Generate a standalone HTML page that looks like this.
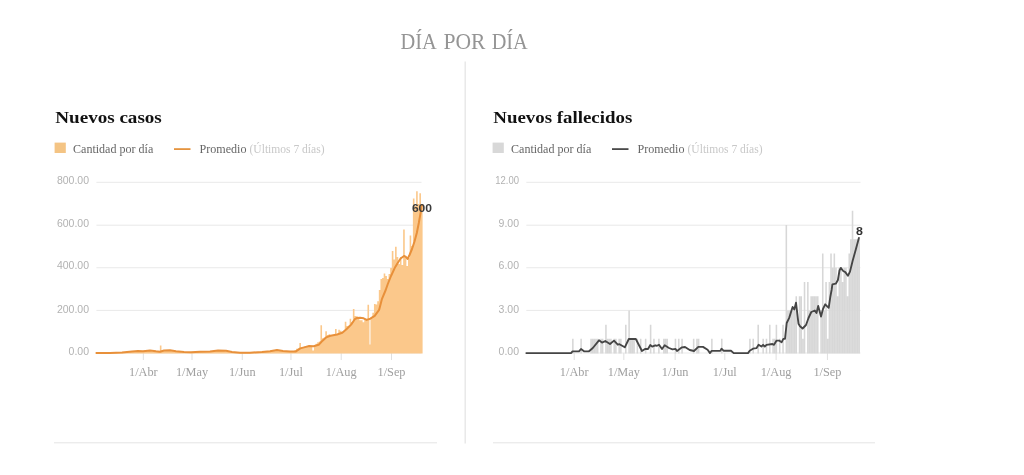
<!DOCTYPE html>
<html lang="es"><head><meta charset="utf-8"><title>Día por día</title>
<style>html,body{margin:0;padding:0;background:#fff;width:1024px;height:475px;overflow:hidden;font-family:"Liberation Sans",sans-serif}</style>
</head><body>
<svg width="1024" height="475" viewBox="0 0 1024 475" style="position:absolute;left:0;top:0;will-change:transform">
<rect width="1024" height="475" fill="#fff"/>
<text x="400.5" y="49" font-family="Liberation Serif, serif" font-size="24" fill="#959595" textLength="36.3" lengthAdjust="spacingAndGlyphs">DÍA</text>
<text x="443.4" y="49" font-family="Liberation Serif, serif" font-size="24" fill="#959595" textLength="42.0" lengthAdjust="spacingAndGlyphs">POR</text>
<text x="491.7" y="49" font-family="Liberation Serif, serif" font-size="24" fill="#959595" textLength="36.1" lengthAdjust="spacingAndGlyphs">DÍA</text>
<rect x="464.65" y="61.5" width="1" height="382" fill="#dedede"/>
<rect x="54" y="442.3" width="383" height="1" fill="#e4e4e4"/>
<rect x="493" y="442.3" width="382" height="1" fill="#e4e4e4"/>
<text x="55.3" y="123" font-family="Liberation Serif, serif" font-weight="bold" font-size="16" fill="#111" textLength="106.5" lengthAdjust="spacingAndGlyphs">Nuevos casos</text>
<rect x="54.6" y="142.6" width="11.2" height="10.4" fill="#f4c484"/>
<text x="73" y="152.8" font-family="Liberation Serif, serif" font-size="11.5" fill="#666" textLength="80.3" lengthAdjust="spacingAndGlyphs">Cantidad por día</text>
<rect x="174" y="148.2" width="16.5" height="1.8" fill="#e5943f"/>
<text x="199.5" y="152.8" font-family="Liberation Serif, serif" font-size="11.5" fill="#666" textLength="47" lengthAdjust="spacingAndGlyphs">Promedio</text>
<text x="249.5" y="152.8" font-family="Liberation Serif, serif" font-size="11.5" fill="#c8c8c8" textLength="75" lengthAdjust="spacingAndGlyphs">(Últimos 7 días)</text>
<rect x="96.4" y="181.80" width="325.1" height="1" fill="#e9e9e9"/>
<text x="89" y="184" text-anchor="end" font-family="Liberation Sans, sans-serif" font-size="10.5" fill="#b2b2b2">800.00</text>
<rect x="96.4" y="224.70" width="325.1" height="1" fill="#e9e9e9"/>
<text x="89" y="227" text-anchor="end" font-family="Liberation Sans, sans-serif" font-size="10.5" fill="#b2b2b2">600.00</text>
<rect x="96.4" y="267.25" width="325.1" height="1" fill="#e9e9e9"/>
<text x="89" y="269" text-anchor="end" font-family="Liberation Sans, sans-serif" font-size="10.5" fill="#b2b2b2">400.00</text>
<rect x="96.4" y="309.90" width="325.1" height="1" fill="#e9e9e9"/>
<text x="89" y="313" text-anchor="end" font-family="Liberation Sans, sans-serif" font-size="10.5" fill="#b2b2b2">200.00</text>
<rect x="96.4" y="352.50" width="325.1" height="1" fill="#e9e9e9"/>
<text x="89" y="355" text-anchor="end" font-family="Liberation Sans, sans-serif" font-size="10.5" fill="#b2b2b2">0.00</text>
<text x="493.3" y="123" font-family="Liberation Serif, serif" font-weight="bold" font-size="16" fill="#111" textLength="139" lengthAdjust="spacingAndGlyphs">Nuevos fallecidos</text>
<rect x="492.6" y="142.6" width="11.2" height="10.4" fill="#d8d8d8"/>
<text x="511" y="152.8" font-family="Liberation Serif, serif" font-size="11.5" fill="#666" textLength="80.3" lengthAdjust="spacingAndGlyphs">Cantidad por día</text>
<rect x="612" y="148.2" width="16.5" height="1.8" fill="#4a4a4a"/>
<text x="637.5" y="152.8" font-family="Liberation Serif, serif" font-size="11.5" fill="#666" textLength="47" lengthAdjust="spacingAndGlyphs">Promedio</text>
<text x="687.5" y="152.8" font-family="Liberation Serif, serif" font-size="11.5" fill="#c8c8c8" textLength="75" lengthAdjust="spacingAndGlyphs">(Últimos 7 días)</text>
<rect x="526.3" y="181.80" width="334.20000000000005" height="1" fill="#e9e9e9"/>
<text x="519" y="184" text-anchor="end" font-family="Liberation Sans, sans-serif" font-size="10.5" fill="#b2b2b2" textLength="23.8" lengthAdjust="spacingAndGlyphs">12.00</text>
<rect x="526.3" y="224.70" width="334.20000000000005" height="1" fill="#e9e9e9"/>
<text x="519" y="227" text-anchor="end" font-family="Liberation Sans, sans-serif" font-size="10.5" fill="#b2b2b2">9.00</text>
<rect x="526.3" y="267.25" width="334.20000000000005" height="1" fill="#e9e9e9"/>
<text x="519" y="269" text-anchor="end" font-family="Liberation Sans, sans-serif" font-size="10.5" fill="#b2b2b2">6.00</text>
<rect x="526.3" y="309.90" width="334.20000000000005" height="1" fill="#e9e9e9"/>
<text x="519" y="313" text-anchor="end" font-family="Liberation Sans, sans-serif" font-size="10.5" fill="#b2b2b2">3.00</text>
<rect x="526.3" y="352.50" width="334.20000000000005" height="1" fill="#e9e9e9"/>
<text x="519" y="355" text-anchor="end" font-family="Liberation Sans, sans-serif" font-size="10.5" fill="#b2b2b2">0.00</text>
<rect x="142.84" y="353" width="1" height="7" fill="#e0e0e0"/>
<text x="143.34" y="376" text-anchor="middle" font-family="Liberation Serif, serif" font-size="12.3" fill="#a0a0a0">1/Abr</text>
<rect x="573.69" y="353" width="1" height="7" fill="#e0e0e0"/>
<text x="574.19" y="376" text-anchor="middle" font-family="Liberation Serif, serif" font-size="12.3" fill="#a0a0a0">1/Abr</text>
<rect x="191.50" y="353" width="1" height="7" fill="#e0e0e0"/>
<text x="192.00" y="376" text-anchor="middle" font-family="Liberation Serif, serif" font-size="12.3" fill="#a0a0a0">1/May</text>
<rect x="623.34" y="353" width="1" height="7" fill="#e0e0e0"/>
<text x="623.84" y="376" text-anchor="middle" font-family="Liberation Serif, serif" font-size="12.3" fill="#a0a0a0">1/May</text>
<rect x="241.78" y="353" width="1" height="7" fill="#e0e0e0"/>
<text x="242.28" y="376" text-anchor="middle" font-family="Liberation Serif, serif" font-size="12.3" fill="#a0a0a0">1/Jun</text>
<rect x="674.65" y="353" width="1" height="7" fill="#e0e0e0"/>
<text x="675.15" y="376" text-anchor="middle" font-family="Liberation Serif, serif" font-size="12.3" fill="#a0a0a0">1/Jun</text>
<rect x="290.44" y="353" width="1" height="7" fill="#e0e0e0"/>
<text x="290.94" y="376" text-anchor="middle" font-family="Liberation Serif, serif" font-size="12.3" fill="#a0a0a0">1/Jul</text>
<rect x="724.30" y="353" width="1" height="7" fill="#e0e0e0"/>
<text x="724.80" y="376" text-anchor="middle" font-family="Liberation Serif, serif" font-size="12.3" fill="#a0a0a0">1/Jul</text>
<rect x="340.72" y="353" width="1" height="7" fill="#e0e0e0"/>
<text x="341.22" y="376" text-anchor="middle" font-family="Liberation Serif, serif" font-size="12.3" fill="#a0a0a0">1/Aug</text>
<rect x="775.60" y="353" width="1" height="7" fill="#e0e0e0"/>
<text x="776.10" y="376" text-anchor="middle" font-family="Liberation Serif, serif" font-size="12.3" fill="#a0a0a0">1/Aug</text>
<rect x="391.00" y="353" width="1" height="7" fill="#e0e0e0"/>
<text x="391.50" y="376" text-anchor="middle" font-family="Liberation Serif, serif" font-size="12.3" fill="#a0a0a0">1/Sep</text>
<rect x="826.91" y="353" width="1" height="7" fill="#e0e0e0"/>
<text x="827.41" y="376" text-anchor="middle" font-family="Liberation Serif, serif" font-size="12.3" fill="#a0a0a0">1/Sep</text>
<path d="M96.59 353.50V352.80h1.614V353.50zM98.21 353.50V352.80h1.614V353.50zM99.83 353.50V352.80h1.614V353.50zM101.46 353.50V352.80h1.614V353.50zM103.08 353.50V352.80h1.614V353.50zM104.70 353.50V352.80h1.614V353.50zM106.32 353.50V352.80h1.614V353.50zM107.94 353.50V352.80h1.614V353.50zM109.57 353.50V352.80h1.614V353.50zM111.19 353.50V352.78h1.614V353.50zM112.81 353.50V352.74h1.614V353.50zM114.43 353.50V352.70h1.614V353.50zM116.05 353.50V352.66h1.614V353.50zM117.68 353.50V352.41h1.614V353.50zM119.30 353.50V352.35h1.614V353.50zM120.92 353.50V352.22h1.614V353.50zM122.54 353.50V352.05h1.614V353.50zM124.16 353.50V351.88h1.614V353.50zM125.79 353.50V351.80h1.614V353.50zM127.41 353.50V351.70h1.614V353.50zM129.03 353.50V351.44h1.614V353.50zM130.65 353.50V351.48h1.614V353.50zM132.27 353.50V351.11h1.614V353.50zM133.90 353.50V351.10h1.614V353.50zM135.52 353.50V351.19h1.614V353.50zM137.14 353.50V351.29h1.614V353.50zM138.76 353.50V351.34h1.614V353.50zM140.38 353.50V351.11h1.614V353.50zM142.00 353.50V351.12h1.614V353.50zM143.63 353.50V350.83h1.614V353.50zM145.25 353.50V350.63h1.614V353.50zM146.87 353.50V350.71h1.614V353.50zM148.49 353.50V350.85h1.614V353.50zM150.12 353.50V351.19h1.614V353.50zM151.74 353.50V351.38h1.614V353.50zM153.36 353.50V351.50h1.614V353.50zM154.98 353.50V351.57h1.614V353.50zM156.60 353.50V351.62h1.614V353.50zM158.23 353.50V351.19h1.614V353.50zM159.85 353.50V345.50h1.614V353.50zM161.47 353.50V350.55h1.614V353.50zM163.09 353.50V350.55h1.614V353.50zM164.71 353.50V350.31h1.614V353.50zM166.34 353.50V350.31h1.614V353.50zM167.96 353.50V350.71h1.614V353.50zM169.58 353.50V350.82h1.614V353.50zM171.20 353.50V351.07h1.614V353.50zM172.82 353.50V351.19h1.614V353.50zM174.44 353.50V351.42h1.614V353.50zM176.07 353.50V351.69h1.614V353.50zM177.69 353.50V351.76h1.614V353.50zM179.31 353.50V352.06h1.614V353.50zM180.93 353.50V352.14h1.614V353.50zM182.56 353.50V352.15h1.614V353.50zM184.18 353.50V352.26h1.614V353.50zM185.80 353.50V352.27h1.614V353.50zM187.42 353.50V352.34h1.614V353.50zM189.04 353.50V352.19h1.614V353.50zM190.67 353.50V352.09h1.614V353.50zM192.29 353.50V352.02h1.614V353.50zM193.91 353.50V351.89h1.614V353.50zM195.53 353.50V351.88h1.614V353.50zM197.15 353.50V351.77h1.614V353.50zM198.78 353.50V351.75h1.614V353.50zM200.40 353.50V351.72h1.614V353.50zM202.02 353.50V351.71h1.614V353.50zM203.64 353.50V351.61h1.614V353.50zM205.26 353.50V351.56h1.614V353.50zM206.89 353.50V351.55h1.614V353.50zM208.51 353.50V351.31h1.614V353.50zM210.13 353.50V351.28h1.614V353.50zM211.75 353.50V350.91h1.614V353.50zM213.37 353.50V350.73h1.614V353.50zM215.00 353.50V350.53h1.614V353.50zM216.62 353.50V350.61h1.614V353.50zM218.24 353.50V350.81h1.614V353.50zM219.86 353.50V350.80h1.614V353.50zM221.48 353.50V350.73h1.614V353.50zM223.11 353.50V351.12h1.614V353.50zM224.73 353.50V351.32h1.614V353.50zM226.35 353.50V351.70h1.614V353.50zM227.97 353.50V352.02h1.614V353.50zM229.59 353.50V352.18h1.614V353.50zM231.22 353.50V352.25h1.614V353.50zM232.84 353.50V352.44h1.614V353.50zM234.46 353.50V352.56h1.614V353.50zM236.08 353.50V352.69h1.614V353.50zM237.70 353.50V352.70h1.614V353.50zM239.33 353.50V352.71h1.614V353.50zM240.95 353.50V352.70h1.614V353.50zM242.57 353.50V352.70h1.614V353.50zM244.19 353.50V352.70h1.614V353.50zM245.81 353.50V352.70h1.614V353.50zM247.44 353.50V352.62h1.614V353.50zM249.06 353.50V352.55h1.614V353.50zM250.68 353.50V352.45h1.614V353.50zM252.30 353.50V352.36h1.614V353.50zM253.92 353.50V352.23h1.614V353.50zM255.55 353.50V352.12h1.614V353.50zM257.17 353.50V352.12h1.614V353.50zM258.79 353.50V352.00h1.614V353.50zM260.41 353.50V351.84h1.614V353.50zM262.03 353.50V351.68h1.614V353.50zM263.66 353.50V351.47h1.614V353.50zM265.28 353.50V351.29h1.614V353.50zM266.90 353.50V351.17h1.614V353.50zM268.52 353.50V351.02h1.614V353.50zM270.14 353.50V350.65h1.614V353.50zM271.76 353.50V350.43h1.614V353.50zM273.39 353.50V350.16h1.614V353.50zM275.01 353.50V350.24h1.614V353.50zM276.63 353.50V350.58h1.614V353.50zM278.25 353.50V350.87h1.614V353.50zM279.88 353.50V351.03h1.614V353.50zM281.50 353.50V351.16h1.614V353.50zM283.12 353.50V351.46h1.614V353.50zM284.74 353.50V351.41h1.614V353.50zM286.36 353.50V351.56h1.614V353.50zM287.99 353.50V351.49h1.614V353.50zM289.61 353.50V351.45h1.614V353.50zM291.23 353.50V351.48h1.614V353.50zM292.85 353.50V350.95h1.614V353.50zM294.47 353.50V350.02h1.614V353.50zM296.10 353.50V348.64h1.614V353.50zM297.72 353.50V348.47h1.614V353.50zM299.34 353.50V343.00h1.614V353.50zM300.96 353.50V347.52h1.614V353.50zM302.58 353.50V347.16h1.614V353.50zM304.21 353.50V346.58h1.614V353.50zM305.83 353.50V346.66h1.614V353.50zM307.45 353.50V346.82h1.614V353.50zM309.07 353.50V346.77h1.614V353.50zM310.69 353.50V346.62h1.614V353.50zM312.32 353.50V350.60h1.614V353.50zM313.94 353.50V345.82h1.614V353.50zM315.56 353.50V343.71h1.614V353.50zM317.18 353.50V342.30h1.614V353.50zM318.80 353.50V341.57h1.614V353.50zM320.43 353.50V325.30h1.614V353.50zM322.05 353.50V338.30h1.614V353.50zM323.67 353.50V337.53h1.614V353.50zM325.29 353.50V331.20h1.614V353.50zM326.91 353.50V335.05h1.614V353.50zM328.54 353.50V334.34h1.614V353.50zM330.16 353.50V335.52h1.614V353.50zM331.78 353.50V335.18h1.614V353.50zM333.40 353.50V336.04h1.614V353.50zM335.02 353.50V329.00h1.614V353.50zM336.64 353.50V334.22h1.614V353.50zM338.27 353.50V329.80h1.614V353.50zM339.89 353.50V330.83h1.614V353.50zM341.51 353.50V331.84h1.614V353.50zM343.13 353.50V331.07h1.614V353.50zM344.75 353.50V321.70h1.614V353.50zM346.38 353.50V325.93h1.614V353.50zM348.00 353.50V325.80h1.614V353.50zM349.62 353.50V318.70h1.614V353.50zM351.24 353.50V322.29h1.614V353.50zM352.87 353.50V309.10h1.614V353.50zM354.49 353.50V315.89h1.614V353.50zM356.11 353.50V316.37h1.614V353.50zM357.73 353.50V317.56h1.614V353.50zM359.35 353.50V320.24h1.614V353.50zM360.98 353.50V320.33h1.614V353.50zM362.60 353.50V322.22h1.614V353.50zM364.22 353.50V318.65h1.614V353.50zM365.84 353.50V319.41h1.614V353.50zM367.46 353.50V304.70h1.614V353.50zM369.09 353.50V344.50h1.614V353.50zM370.71 353.50V318.29h1.614V353.50zM372.33 353.50V312.71h1.614V353.50zM373.95 353.50V304.00h1.614V353.50zM375.57 353.50V304.50h1.614V353.50zM377.20 353.50V301.15h1.614V353.50zM378.82 353.50V290.00h1.614V353.50zM380.44 353.50V279.00h1.614V353.50zM382.06 353.50V278.00h1.614V353.50zM383.68 353.50V273.50h1.614V353.50zM385.31 353.50V276.00h1.614V353.50zM386.93 353.50V279.00h1.614V353.50zM388.55 353.50V274.00h1.614V353.50zM390.17 353.50V268.00h1.614V353.50zM391.79 353.50V251.00h1.614V353.50zM393.42 353.50V259.50h1.614V353.50zM395.04 353.50V246.70h1.614V353.50zM396.66 353.50V257.00h1.614V353.50zM398.28 353.50V264.00h1.614V353.50zM399.90 353.50V257.00h1.614V353.50zM401.52 353.50V265.00h1.614V353.50zM403.15 353.50V229.50h1.614V353.50zM404.77 353.50V258.00h1.614V353.50zM406.39 353.50V266.00h1.614V353.50zM408.01 353.50V258.00h1.614V353.50zM409.63 353.50V235.50h1.614V353.50zM411.26 353.50V246.00h1.614V353.50zM412.88 353.50V198.60h1.614V353.50zM414.50 353.50V206.00h1.614V353.50zM416.12 353.50V191.30h1.614V353.50zM417.75 353.50V204.00h1.614V353.50zM419.37 353.50V193.30h1.614V353.50zM420.99 353.50V208.00h1.614V353.50z" fill="#fbc88b"/>
<rect x="369.09" y="319.5" width="1.622" height="26" fill="#fbc88b" fill-opacity="0.45"/>
<polyline fill="none" stroke="#e8903a" stroke-width="2" stroke-linejoin="round" stroke-linecap="round" points="96.4,353.0 110.0,353.0 122.0,352.4 132.0,351.6 138.0,351.0 143.0,351.3 150.0,350.5 156.0,351.3 160.0,351.7 164.0,350.5 170.0,350.3 176.0,351.2 184.0,352.1 191.0,352.3 200.0,351.8 210.0,351.6 218.0,350.6 226.0,350.8 232.0,352.0 240.0,352.7 250.0,352.7 262.0,352.0 270.0,351.2 277.0,350.1 283.0,351.0 290.0,351.6 295.9,351.4 300.3,348.4 305.0,347.1 309.1,346.0 313.6,346.3 318.7,344.8 321.7,341.5 326.1,337.4 330.5,335.7 337.1,334.5 342.3,332.7 346.7,329.0 351.1,324.6 354.8,319.2 357.0,318.0 360.0,317.7 363.6,318.3 366.6,319.9 370.3,318.7 374.7,315.8 379.1,309.9 382.0,298.8 385.7,290.0 387.8,284.0 391.0,276.0 394.8,267.8 398.0,262.5 400.6,258.5 404.0,256.0 406.0,257.0 407.5,259.0 409.5,255.0 412.0,249.0 414.5,241.5 416.8,233.0 418.8,223.0 420.3,214.4 422.0,205.0"/>
<text x="422" y="211.8" text-anchor="middle" font-family="Liberation Sans, sans-serif" font-weight="bold" font-size="11.5" fill="#3a3a3a" textLength="20.2" lengthAdjust="spacingAndGlyphs">600</text>
<path d="M572.06 353.60V338.87h1.556V353.60zM580.34 353.60V338.87h1.556V353.60zM590.27 353.60V338.87h1.556V353.60zM591.92 353.60V338.87h1.556V353.60zM593.58 353.60V338.87h1.556V353.60zM595.23 353.60V338.87h1.556V353.60zM596.89 353.60V338.87h1.556V353.60zM600.20 353.60V338.87h1.556V353.60zM601.85 353.60V338.87h1.556V353.60zM605.16 353.60V324.63h1.556V353.60zM606.82 353.60V338.87h1.556V353.60zM608.47 353.60V338.87h1.556V353.60zM610.13 353.60V338.87h1.556V353.60zM613.44 353.60V338.87h1.556V353.60zM615.09 353.60V338.87h1.556V353.60zM618.40 353.60V338.87h1.556V353.60zM620.06 353.60V338.87h1.556V353.60zM625.02 353.60V324.63h1.556V353.60zM628.33 353.60V310.40h1.556V353.60zM629.99 353.60V338.87h1.556V353.60zM631.64 353.60V338.87h1.556V353.60zM633.30 353.60V338.87h1.556V353.60zM636.61 353.60V338.87h1.556V353.60zM639.92 353.60V338.87h1.556V353.60zM644.88 353.60V338.87h1.556V353.60zM649.85 353.60V324.63h1.556V353.60zM653.16 353.60V338.87h1.556V353.60zM658.12 353.60V338.87h1.556V353.60zM663.09 353.60V338.87h1.556V353.60zM664.74 353.60V338.87h1.556V353.60zM666.40 353.60V338.87h1.556V353.60zM674.67 353.60V338.87h1.556V353.60zM677.98 353.60V338.87h1.556V353.60zM681.29 353.60V338.87h1.556V353.60zM692.88 353.60V338.87h1.556V353.60zM696.19 353.60V338.87h1.556V353.60zM697.84 353.60V338.87h1.556V353.60zM711.08 353.60V338.87h1.556V353.60zM721.01 353.60V338.87h1.556V353.60zM749.15 353.60V338.87h1.556V353.60zM752.46 353.60V338.87h1.556V353.60zM757.42 353.60V324.63h1.556V353.60zM762.39 353.60V338.87h1.556V353.60zM765.70 353.60V338.87h1.556V353.60zM769.01 353.60V324.63h1.556V353.60zM772.32 353.60V338.87h1.556V353.60zM773.97 353.60V338.87h1.556V353.60zM775.63 353.60V324.63h1.556V353.60zM778.94 353.60V338.87h1.556V353.60zM782.25 353.60V324.63h1.556V353.60zM785.56 353.60V225.00h1.556V353.60zM787.21 353.60V310.40h1.556V353.60zM788.87 353.60V310.40h1.556V353.60zM790.52 353.60V310.40h1.556V353.60zM792.18 353.60V310.40h1.556V353.60zM793.83 353.60V310.40h1.556V353.60zM795.49 353.60V296.17h1.556V353.60zM798.80 353.60V296.17h1.556V353.60zM800.45 353.60V296.17h1.556V353.60zM802.11 353.60V338.87h1.556V353.60zM803.76 353.60V281.93h1.556V353.60zM807.07 353.60V281.93h1.556V353.60zM808.73 353.60V310.40h1.556V353.60zM810.38 353.60V296.17h1.556V353.60zM812.04 353.60V296.17h1.556V353.60zM813.69 353.60V296.17h1.556V353.60zM815.35 353.60V296.17h1.556V353.60zM817.00 353.60V296.17h1.556V353.60zM820.31 353.60V310.40h1.556V353.60zM821.97 353.60V253.47h1.556V353.60zM823.62 353.60V310.40h1.556V353.60zM825.28 353.60V281.93h1.556V353.60zM826.93 353.60V338.87h1.556V353.60zM828.59 353.60V281.93h1.556V353.60zM830.24 353.60V253.47h1.556V353.60zM831.90 353.60V267.70h1.556V353.60zM833.55 353.60V253.47h1.556V353.60zM835.21 353.60V267.70h1.556V353.60zM836.86 353.60V296.17h1.556V353.60zM838.52 353.60V267.70h1.556V353.60zM840.17 353.60V267.70h1.556V353.60zM841.83 353.60V281.93h1.556V353.60zM843.48 353.60V267.70h1.556V353.60zM845.14 353.60V267.70h1.556V353.60zM846.79 353.60V296.17h1.556V353.60zM848.45 353.60V253.47h1.556V353.60zM850.10 353.60V239.23h1.556V353.60zM851.76 353.60V210.77h1.556V353.60zM853.41 353.60V239.23h1.556V353.60zM855.07 353.60V239.23h1.556V353.60zM856.72 353.60V239.23h1.556V353.60zM858.38 353.60V239.23h1.556V353.60z" fill="#d7d7d7"/>
<polyline fill="none" stroke="#454545" stroke-width="1.85" stroke-linejoin="round" stroke-linecap="round" points="526.3,353.1 571.0,353.1 572.5,351.3 579.0,351.3 581.0,349.0 584.0,351.3 589.0,351.3 592.8,348.0 599.0,340.3 602.0,342.6 605.3,341.0 610.0,344.0 614.0,340.6 617.8,344.7 619.5,344.2 624.8,347.3 628.8,339.0 635.8,339.0 642.0,351.0 645.0,349.0 648.0,349.0 650.3,345.0 652.2,346.6 655.3,345.3 657.0,345.8 659.0,344.7 662.0,349.0 664.7,345.3 669.0,348.0 672.5,349.3 675.6,348.9 677.0,351.0 682.0,347.3 685.0,347.0 689.7,350.0 694.0,351.0 698.3,346.9 703.0,346.9 707.6,349.7 710.0,353.1 711.5,350.9 720.3,350.9 721.5,348.7 723.5,350.7 731.0,350.7 733.7,353.1 748.0,353.1 749.7,350.7 753.0,348.7 756.4,348.2 758.6,344.8 761.4,346.5 763.1,344.8 764.8,346.5 766.5,344.8 772.4,344.0 774.0,344.8 776.6,340.6 779.1,340.6 781.6,342.3 783.3,338.9 785.0,338.9 786.7,323.0 789.2,317.9 792.6,307.0 794.3,309.5 796.0,302.7 798.5,323.8 800.0,326.3 802.6,328.5 806.0,325.0 808.5,318.0 811.3,312.0 814.8,310.5 816.5,313.0 818.2,306.0 821.0,316.5 823.0,309.0 825.2,304.3 828.7,307.8 830.3,297.0 831.6,290.0 832.4,284.4 835.8,283.7 837.9,280.0 839.5,270.5 840.8,267.9 843.2,271.0 845.3,272.1 847.9,275.8 850.0,271.6 852.6,261.0 855.8,249.5 858.9,238.0"/>
<text x="855.9" y="235" font-family="Liberation Sans, sans-serif" font-weight="bold" font-size="11.5" fill="#333" textLength="6.9" lengthAdjust="spacingAndGlyphs">8</text>
</svg>
</body></html>
